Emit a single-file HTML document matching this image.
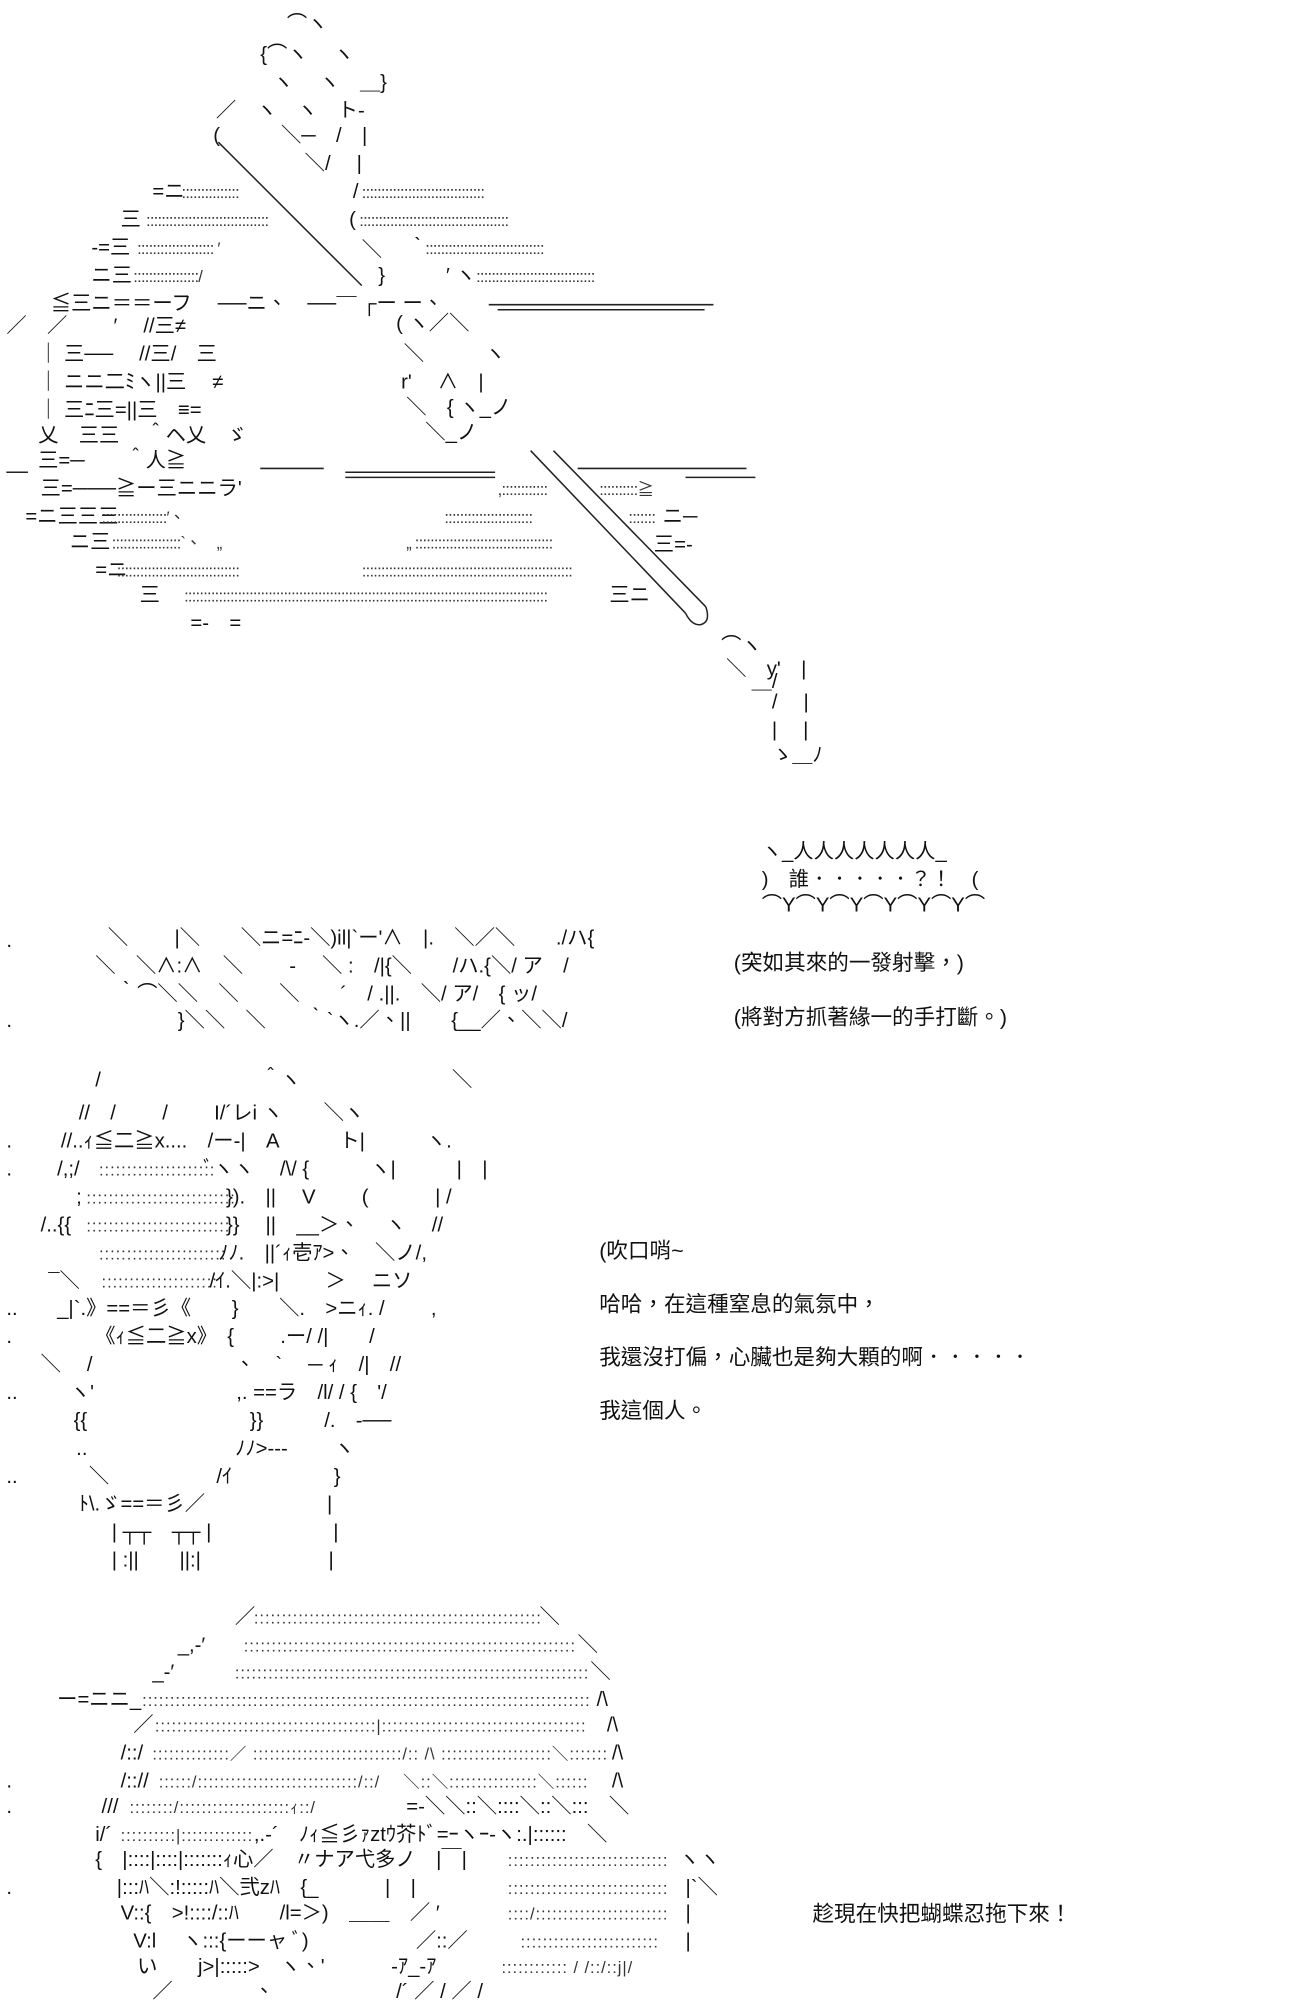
<!DOCTYPE html>
<html><head><meta charset="utf-8"><style>
html,body{margin:0;padding:0;background:#fff;}
body{width:1300px;height:2000px;overflow:hidden;position:relative;}
#c{position:absolute;left:0;top:0;width:1024px;height:1576px;transform:scale(1.2695);transform-origin:0 0;}
#c div{position:absolute;white-space:pre;font-family:"Liberation Sans","Noto Sans CJK TC","Noto Sans CJK JP",sans-serif;font-size:16px;line-height:16px;color:#111;}
#c div.d{font-size:13px;letter-spacing:-0.6px;color:#333;}
#c div.d.w{letter-spacing:0.75px;}
#c div.t{font-size:17px;line-height:18px;color:#111;}
svg{position:absolute;left:0;top:0;}
</style></head><body><div id="c">
<svg width="1024" height="1576" stroke="#222" stroke-width="1.2" fill="none">
<line x1="172" y1="112" x2="260" y2="200"/><line x1="260" y1="200" x2="285" y2="225"/>
<line x1="418" y1="355" x2="540" y2="483"/><line x1="436" y1="355" x2="556" y2="478"/>
<path d="M540 483 Q545 493 552 492 Q560 490 556 478"/>
<line x1="385" y1="240" x2="562" y2="240"/><line x1="392" y1="244" x2="555" y2="244"/>
<line x1="272" y1="372" x2="390" y2="372"/><line x1="272" y1="376" x2="390" y2="376"/>
<line x1="205" y1="369" x2="255" y2="369"/><line x1="455" y1="369" x2="588" y2="369"/><line x1="540" y1="376" x2="595" y2="376"/>
<line x1="5" y1="372" x2="22" y2="372"/>
</svg>

<!-- top art -->
<div style="left:226px;top:12px">⌒ヽ</div>
<div style="left:205px;top:36px">{⌒ヽ　 ヽ</div>
<div style="left:215px;top:58px">ヽ　 ヽ　＿}</div>
<div style="left:170px;top:80px">／　ヽ　ヽ　ト-</div>
<div style="left:168px;top:100px">(　　　＼─　/　|</div>
<div style="left:240px;top:122px">＼/　 |</div>
<div style="left:120px;top:144px">=ニ</div><div class="d" style="left:143px;top:144px">:::::::::::::::</div>
<div style="left:278px;top:144px">/</div><div class="d" style="left:285px;top:144px">::::::::::::::::::::::::::::::::</div>
<div style="left:95px;top:166px">三</div><div class="d" style="left:115px;top:166px">::::::::::::::::::::::::::::::::</div>
<div style="left:275px;top:166px">(</div><div class="d" style="left:283px;top:166px">:::::::::::::::::::::::::::::::::::::::</div>
<div style="left:72px;top:188px">-=三</div><div class="d" style="left:108px;top:188px">:::::::::::::::::::: ′</div>
<div style="left:285px;top:190px">＼　 ｀</div><div class="d" style="left:335px;top:188px">:::::::::::::::::::::::::::::::</div>
<div style="left:72px;top:210px">ニ三</div><div class="d" style="left:105px;top:210px">:::::::::::::::::/</div>
<div style="left:298px;top:210px">}　　　′ ヽ</div><div class="d" style="left:375px;top:210px">:::::::::::::::::::::::::::::::</div>
<div style="left:265px;top:220px">＿</div>
<div style="left:40px;top:232px">≦三ニ＝＝ーフ　 ──ニ、　──　 ┌ー ー、</div>
<div style="left:5px;top:250px">／　／　　 ′　 //三≠</div><div style="left:312px;top:248px">( ヽ／＼</div>
<div style="left:30px;top:272px">｜ 三──　 //三/　三</div><div style="left:318px;top:272px">＼　　　ヽ</div>
<div style="left:30px;top:294px">｜ ニニ二ﾐヽ||三　 ≠</div><div style="left:316px;top:294px">r'　 ∧　|</div>
<div style="left:30px;top:316px">｜ 三ﾆ三=||三　≡=</div><div style="left:320px;top:314px">＼　{ ヽ_ノ</div>
<div style="left:30px;top:336px">乂　三三　 ＾ヘ乂　ゞ</div><div style="left:335px;top:334px">＼_ノ</div>
<div style="left:30px;top:356px">三=─　　＾人≧</div>
<div style="left:32px;top:378px">三=───≧ー三ニニラ'</div>
<div class="d" style="left:392px;top:378px">,::::::::::::</div><div class="d" style="left:472px;top:378px">::::::::::≧</div>
<div style="left:20px;top:400px">=ニ三三三</div><div class="d" style="left:80px;top:400px">:::::::::::::::::′、</div>
<div class="d" style="left:350px;top:400px">:::::::::::::::::::::::</div><div class="d" style="left:495px;top:400px">:::::::</div><div style="left:522px;top:400px">ニ─</div>
<div style="left:55px;top:420px">ニ三</div><div class="d" style="left:88px;top:420px">::::::::::::::::::`、　„</div>
<div class="d" style="left:320px;top:420px">„ ::::::::::::::::::::::::::::::::::::</div><div style="left:515px;top:422px">三=-</div>
<div style="left:75px;top:442px">=ニ</div><div class="d" style="left:92px;top:442px">::::::::::::::::::::::::::::::::</div>
<div class="d" style="left:285px;top:442px">:::::::::::::::::::::::::::::::::::::::::::::::::::::::</div>
<div style="left:110px;top:462px">三</div><div class="d" style="left:145px;top:462px">:::::::::::::::::::::::::::::::::::::::::::::::::::::::::::::::::::::::::::::::::::::::::::::::</div><div style="left:480px;top:462px">三ニ</div>
<div style="left:150px;top:484px">=-　=</div>
<!-- falling finger -->
<div style="left:568px;top:502px">⌒ヽ</div>
<div style="left:572px;top:520px">＼　y'　|</div>
<div style="left:592px;top:530px">＿/</div>
<div style="left:608px;top:546px">/　 |</div>
<div style="left:608px;top:568px">|　 |</div>
<div style="left:608px;top:588px">ゝ＿ﾉ</div>

<!-- bubble -->
<div style="left:600px;top:664px">ヽ_人人人人人人人_</div>
<div style="left:600px;top:686px">)　誰．．．．．？！　(</div>
<div style="left:600px;top:706px">⌒Y⌒Y⌒Y⌒Y⌒Y⌒Y⌒</div>
<!-- middle art -->
<div style="left:5px;top:734px">.</div><div style="left:5px;top:797px">.</div>
<div style="left:85px;top:732px">＼　　 |＼　　＼ニ=ﾆ-＼)il|`ー'∧　|.　＼／＼　　./ハ{</div>
<div style="left:75px;top:754px">＼　＼∧:∧　＼　　 -　 ＼ :　/|{＼　　/ハ.{＼/ ア　/</div>
<div style="left:92px;top:776px">｀⌒＼＼　＼　　＼　　´　/ .||.　＼/ ア/　{ ッ/</div>
<div style="left:140px;top:797px">}＼＼　＼　　｀`ヽ.／、||　　{__／、＼＼/</div>
<div class="t" style="left:578px;top:750px">(突如其來的一發射擊，)</div>
<div class="t" style="left:578px;top:793px">(將對方抓著緣一的手打斷。)</div>

<!-- section 3 -->
<div style="left:75px;top:844px">/</div><div style="left:205px;top:844px">＾ヽ</div><div style="left:356px;top:844px">＼</div>
<div style="left:62px;top:870px">//　/　　 /　　 I/´レi ヽ　　＼ヽ</div>
<div style="left:5px;top:892px">.</div><div style="left:48px;top:892px">//..ｨ≦二≧x....　/ー-|　A　　　ト|　　　ヽ.</div>
<div style="left:5px;top:914px">.</div><div style="left:45px;top:914px">/,;/</div><div class="d w" style="left:78px;top:914px">:::::::::::::::::::::</div><div style="left:160px;top:914px">ﾞヽヽ　 /\/ {　　　ヽ|　　　|　|</div>
<div style="left:60px;top:936px">;</div><div class="d w" style="left:68px;top:936px">:::::::::::::::::::::::::::</div><div style="left:178px;top:936px">}).　||　 V　　 (　　　 | /</div>
<div style="left:32px;top:958px">/..{{</div><div class="d w" style="left:68px;top:958px">::::::::::::::::::::::::::</div><div style="left:178px;top:958px">}}　 ||　__＞、　 ヽ　 //</div>
<div class="d w" style="left:78px;top:980px">:::::::::::::::::::::::</div><div style="left:172px;top:980px">ﾉﾉ.　||´ｨ壱ｱ>、　＼ノ/,</div>
<div style="left:38px;top:1002px">¯＼</div><div class="d w" style="left:80px;top:1002px">:::::::::::::::::::::</div><div style="left:165px;top:1002px">/ｲ.＼|:>|　　 ＞　 ニソ</div>
<div style="left:5px;top:1024px">..</div><div style="left:45px;top:1024px">_|`.》==＝彡《　　}　　＼.　>ニｨ. /　　 ,</div>
<div style="left:5px;top:1046px">.</div><div style="left:75px;top:1046px">《ｨ≦二≧x》　{　　 .ー/ /|　　/</div>
<div style="left:32px;top:1068px">＼　 /　　　　　　　、　`　 ─ ｨ　/|　//</div>
<div style="left:5px;top:1090px">..</div><div style="left:55px;top:1090px">ヽ'　　　　　　　,. ==ラ　/l/ / {　'/</div>
<div style="left:58px;top:1112px">{{　　　　　　　　}}　　　/.　-──</div>
<div style="left:60px;top:1134px">..　　　　　　　 ﾉﾉ>---　　 ヽ</div>
<div style="left:5px;top:1156px">..</div><div style="left:70px;top:1156px">＼　　　　　 /ｲ　　　　　}</div>
<div style="left:62px;top:1178px">ﾄ\.ゞ==＝彡／　　　　　　|</div>
<div style="left:88px;top:1200px">| ┬┬　┬┬ |　　　　　　|</div>
<div style="left:88px;top:1222px">| :||　　||:|　　　　　　 |</div>
<div class="t" style="left:472px;top:977px">(吹口哨~</div>
<div class="t" style="left:472px;top:1019px">哈哈，在這種窒息的氣氛中，</div>
<div class="t" style="left:472px;top:1061px">我還沒打偏，心臟也是夠大顆的啊．．．．．</div>
<div class="t" style="left:472px;top:1103px">我這個人。</div>

<!-- bottom -->
<div style="left:185px;top:1267px">／</div><div class="d w" style="left:200px;top:1267px">::::::::::::::::::::::::::::::::::::::::::::::::::::</div><div style="left:425px;top:1267px">＼</div>
<div style="left:140px;top:1289px">_,-′</div><div class="d w" style="left:192px;top:1289px">::::::::::::::::::::::::::::::::::::::::::::::::::::::::::::</div><div style="left:455px;top:1289px">＼</div>
<div style="left:120px;top:1310px">_-′</div><div class="d w" style="left:185px;top:1310px">::::::::::::::::::::::::::::::::::::::::::::::::::::::::::::::::</div><div style="left:465px;top:1310px">＼</div>
<div style="left:45px;top:1332px">ー=ニニ_</div><div class="d w" style="left:112px;top:1332px">:::::::::::::::::::::::::::::::::::::::::::::::::::::::::::::::::::::::::::::::::</div><div style="left:470px;top:1332px">/\</div>
<div style="left:105px;top:1352px">／</div><div class="d w" style="left:122px;top:1352px">::::::::::::::::::::::::::::::::::::::::|:::::::::::::::::::::::::::::::::::::</div><div style="left:478px;top:1352px">/\</div>
<div style="left:95px;top:1374px">/::/</div><div class="d w" style="left:120px;top:1374px">::::::::::::::／ :::::::::::::::::::::::::::/:: /\ ::::::::::::::::::::＼:::::::</div><div style="left:482px;top:1374px">/\</div>
<div style="left:5px;top:1396px">.</div><div style="left:95px;top:1396px">/::// </div><div class="d w" style="left:125px;top:1396px">::::::/:::::::::::::::::::::::::::::/::/　 ＼::＼::::::::::::::::＼::::::</div><div style="left:482px;top:1396px">/\</div>
<div style="left:5px;top:1416px">.</div><div style="left:80px;top:1416px">///</div><div class="d w" style="left:102px;top:1416px">::::::::/::::::::::::::::::::ｨ::/</div><div style="left:320px;top:1416px">=-＼＼::＼::::＼::＼:::　＼</div>
<div style="left:75px;top:1438px">i/´</div><div class="d w" style="left:95px;top:1438px">::::::::::|:::::::::::::</div><div style="left:200px;top:1438px">,.-´　ﾉｨ≦彡ｧztｳ芥ﾄﾞ=ｰヽｰ-ヽ:.|::::::　＼</div>
<div style="left:75px;top:1458px">{　|::::|::::|:::::::ｨ心／　〃ナア弋多ノ　|￣|</div><div class="d w" style="left:400px;top:1458px">:::::::::::::::::::::::::::::</div><div style="left:535px;top:1458px">ヽヽ</div>
<div style="left:5px;top:1480px">.</div><div style="left:92px;top:1480px">|:::ﾊ＼:!:::::ﾊ＼弐zﾊ　{_　　　 |　|</div><div class="d w" style="left:400px;top:1480px">:::::::::::::::::::::::::::::</div><div style="left:540px;top:1480px">|`＼</div>
<div style="left:95px;top:1500px">V::{　>!::::/::ﾊ　　/l=＞)　＿＿　／ ′</div><div class="d w" style="left:400px;top:1500px">::::/::::::::::::::::::::::::</div><div style="left:540px;top:1500px">|</div>
<div style="left:105px;top:1522px">V:l　 ヽ:::{ーーャ ﾞ)　　　　　 ／::／</div><div class="d w" style="left:410px;top:1522px">:::::::::::::::::::::::::</div><div style="left:540px;top:1522px">|</div>
<div style="left:108px;top:1542px">い　　j>|:::::>　ヽ、'　　　 -ｱ_-ｱ</div><div class="d w" style="left:395px;top:1542px">:::::::::::: / /::/::j|/</div>
<div style="left:120px;top:1562px">／　　　　、　　　　　　/´ ／ / ／ /</div>
<div class="t" style="left:640px;top:1499px">趁現在快把蝴蝶忍拖下來！</div>
</div></body></html>
